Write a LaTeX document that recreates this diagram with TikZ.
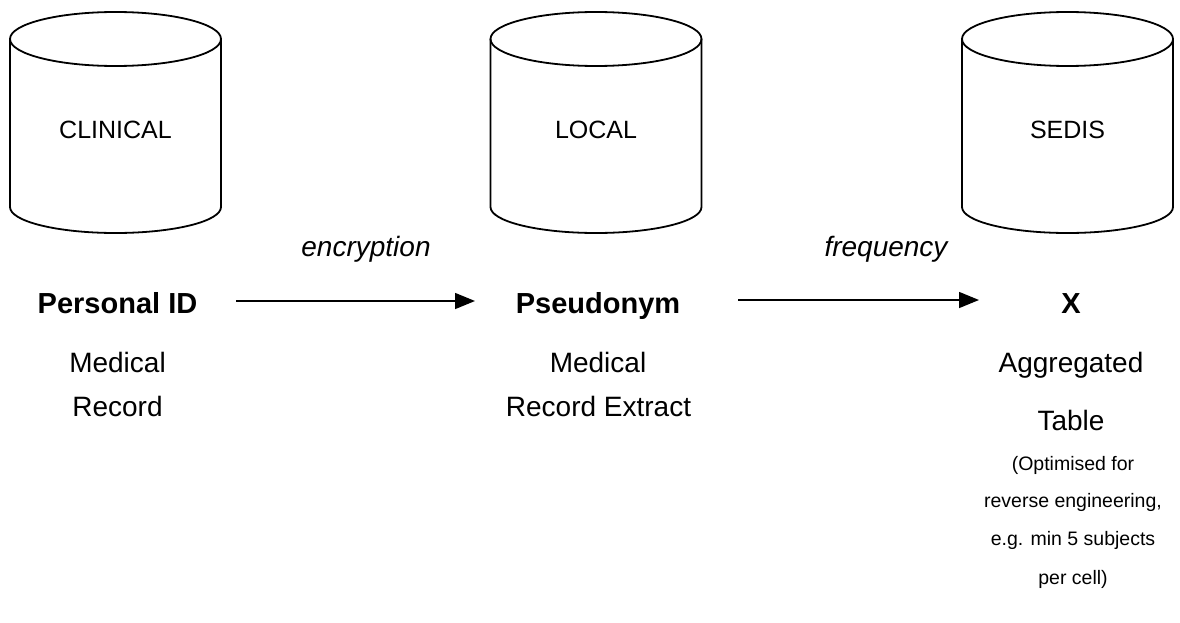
\documentclass[tikz,border=0pt]{standalone}
\usepackage{fontspec}
\setmainfont{Liberation Sans}
\usetikzlibrary{arrows.meta}
\tikzset{
  cylline/.style={line width=1.8pt, line join=round},
  dbtext/.style={font=\fontsize{25}{30}\selectfont, inner sep=0pt, anchor=base},
  idtext/.style={font=\bfseries\fontsize{29}{34}\selectfont, inner sep=0pt, anchor=base},
  bodytext/.style={font=\fontsize{28}{33}\selectfont, inner sep=0pt, anchor=base},
  steplabel/.style={font=\itshape\fontsize{28}{33}\selectfont, inner sep=0pt, anchor=base},
  smalltext/.style={font=\fontsize{19.5}{23}\selectfont, inner sep=0pt, anchor=base},
  flowarrow/.style={line width=1.5pt, -{Triangle[length=20pt,width=16pt]}}
}
\newcommand{\dbcylinder}[4]{% #1 centre x, #2 name, #3 label
  \draw[cylline] (#1,39) ellipse[x radius=105.5, y radius=27];
  \draw[cylline] (#1-105.5,39) -- (#1-105.5,207)
     arc[start angle=180, end angle=0, x radius=105.5, y radius=26]
     -- (#1+105.5,39);
  \node[dbtext] (#2) at (#1,139) {#3};
}
\begin{document}
\begin{tikzpicture}[x=1pt,y=-1pt]
\useasboundingbox (0,0) rectangle (1180,623);
\dbcylinder{115.5}{clinical}{CLINICAL}{}
\dbcylinder{596}{local}{LOCAL}{}
\dbcylinder{1067.5}{sedis}{SEDIS}{}

\node[steplabel] (enc) at (366,256) {encryption};
\node[steplabel] (freq) at (886,256) {frequency};

\node[idtext] (pid) at (117.5,313) {Personal ID};
\node[bodytext] (med1) at (117.5,372) {Medical};
\node[bodytext] (rec1) at (117.5,416) {Record};

\node[idtext] (pse) at (598,313) {Pseudonym};
\node[bodytext] (med2) at (598,372) {Medical};
\node[bodytext] (rec2) at (598.5,416) {Record Extract};

\node[idtext] (x) at (1071,313) {X};
\node[bodytext] (agg) at (1071,372) {Aggregated};
\node[bodytext] (tab) at (1071,430) {Table};
\node[smalltext] (s1) at (1073,470) {(Optimised for};
\node[smalltext] (s2) at (1073,507) {reverse engineering,};
\node[smalltext] (s3) at (1073,545) {e.g. min 5 subjects};
\node[smalltext] (s4) at (1073,584) {per cell)};

\coordinate (a1s) at (236,301);
\coordinate (a1e) at (475,301);
\coordinate (a2s) at (738,300);
\coordinate (a2e) at (979,300);
\draw[flowarrow] (a1s) -- (a1e);
\draw[flowarrow] (a2s) -- (a2e);
\end{tikzpicture}
\end{document}
